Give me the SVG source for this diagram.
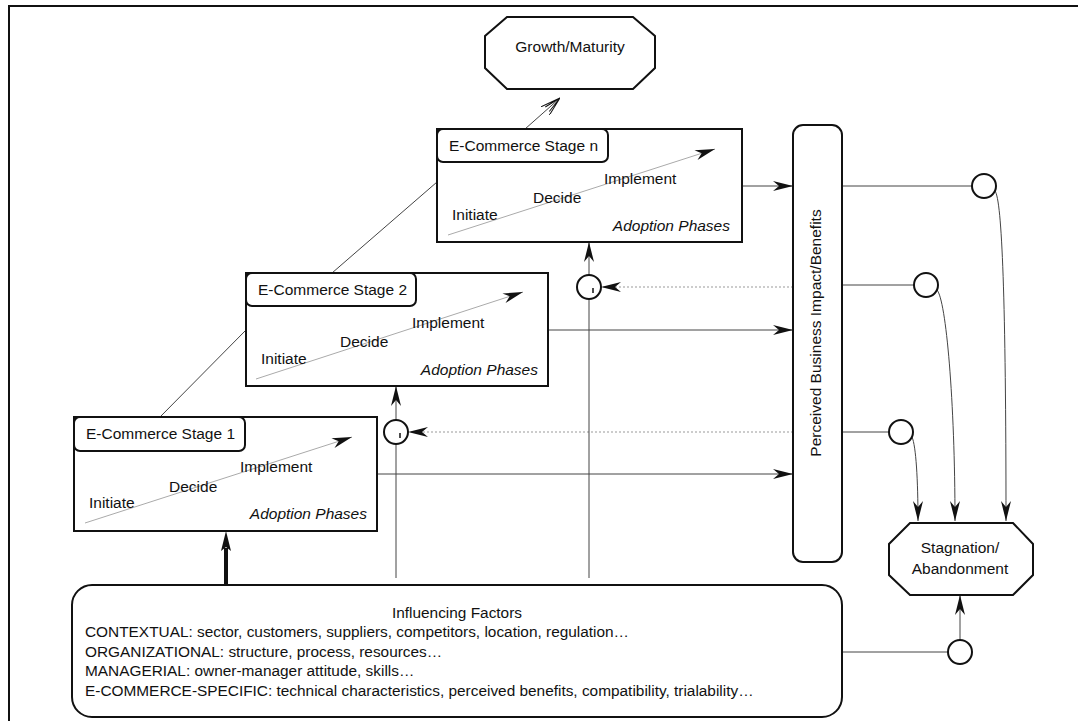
<svg xmlns="http://www.w3.org/2000/svg" width="1078" height="721" viewBox="0 0 1078 721">
<defs>
<style>
text{font-family:"Liberation Sans",Arial,sans-serif;fill:#111}
.t{font-size:15.5px}
.s{font-size:15.4px}
.it{font-size:15.5px;font-style:italic}
.box{fill:#fff;stroke:#111;stroke-width:2}
.ln{fill:none;stroke:#444;stroke-width:1}
.dot{fill:none;stroke:#999;stroke-width:1;stroke-dasharray:2,2}
.ph{fill:none;stroke:#aaa;stroke-width:1}
.circ{fill:#fff;stroke:#111;stroke-width:2}
</style>
<marker id="ah" viewBox="0 0 20 10" refX="20" refY="5" markerWidth="20" markerHeight="10" markerUnits="userSpaceOnUse" orient="auto">
<path d="M0,0 L20,5 L0,10 L6,5 z" fill="#111"/>
</marker>
<marker id="open" viewBox="0 0 20 12" refX="20" refY="6" markerWidth="20" markerHeight="12" markerUnits="userSpaceOnUse" orient="auto">
<path d="M0,0 L20,6 L0,12 M3,3 L20,6 L3,9" fill="none" stroke="#111" stroke-width="1"/>
</marker>
</defs>
<rect width="1078" height="721" fill="#fff"/>
<path d="M9,721 L9,6 L1078,6" fill="none" stroke="#111" stroke-width="2"/>

<g id="connectors">
<line class="ln" x1="160" y1="417" x2="246" y2="330"/>
<line class="ln" x1="332" y1="273" x2="437" y2="182"/>
<line class="ln" x1="525" y1="129" x2="560" y2="98" marker-end="url(#open)"/>
<line class="ln" x1="742" y1="186" x2="793" y2="186" marker-end="url(#ah)"/>
<line class="ln" x1="548" y1="330" x2="793" y2="330" marker-end="url(#ah)"/>
<line class="ln" x1="377" y1="474" x2="793" y2="474" marker-end="url(#ah)"/>
<line class="dot" x1="793" y1="287" x2="601" y2="287" marker-end="url(#ah)"/>
<line class="dot" x1="793" y1="432" x2="408" y2="432" marker-end="url(#ah)"/>
<line class="ln" x1="589" y1="275" x2="589" y2="242" marker-end="url(#ah)"/>
<line class="ln" x1="396" y1="420" x2="396" y2="386" marker-end="url(#ah)"/>
<line class="ln" x1="589" y1="299" x2="589" y2="578"/>
<line class="ln" x1="396" y1="444" x2="396" y2="578"/>
<line x1="226" y1="585" x2="226" y2="548" stroke="#111" stroke-width="4"/>
<path d="M226,531 L231,551 L226,547 L221,551 z" fill="#111"/>
<line class="ln" x1="842" y1="186" x2="972" y2="186"/>
<line class="ln" x1="842" y1="285" x2="914" y2="285"/>
<line class="ln" x1="842" y1="432" x2="889" y2="432"/>
<path class="ln" d="M995,191 C1002,200 1006,300 1006,521" marker-end="url(#ah)"/>
<path class="ln" d="M937,290 C946,300 955,400 955,521" marker-end="url(#ah)"/>
<path class="ln" d="M912,437 C916,446 918,480 918,521" marker-end="url(#ah)"/>
<line class="ln" x1="842" y1="652" x2="948" y2="652"/>
<line class="ln" x1="960" y1="640" x2="960" y2="595" marker-end="url(#ah)"/>
</g>

<g id="growth">
<polygon class="box" points="507,17 633,17 655,36 655,68 633,89 507,89 485,68 485,36"/>
<text class="t" x="570" y="52" text-anchor="middle">Growth/Maturity</text>
</g>

<g id="stage-n" transform="translate(437,129)">
<rect class="box" x="0" y="0" width="305" height="113"/>
<rect class="box" x="0" y="0" width="171" height="33" rx="6"/>
<text class="t" x="12" y="22">E-Commerce Stage n</text>
<line class="ph" x1="11" y1="106" x2="278" y2="20" marker-end="url(#ah)"/>
<text class="t" x="15" y="91">Initiate</text>
<text class="t" x="96" y="74">Decide</text>
<text class="t" x="167" y="55">Implement</text>
<text class="it" x="293" y="102" text-anchor="end">Adoption Phases</text>
</g>

<g id="stage-2" transform="translate(246,273)">
<rect class="box" x="0" y="0" width="302" height="113"/>
<rect class="box" x="0" y="0" width="170" height="33" rx="6"/>
<text class="t" x="12" y="22">E-Commerce Stage 2</text>
<line class="ph" x1="10" y1="106" x2="277" y2="19" marker-end="url(#ah)"/>
<text class="t" x="15" y="91">Initiate</text>
<text class="t" x="94" y="74">Decide</text>
<text class="t" x="166" y="55">Implement</text>
<text class="it" x="292" y="102" text-anchor="end">Adoption Phases</text>
</g>

<g id="stage-1" transform="translate(74,417)">
<rect class="box" x="0" y="0" width="303" height="114"/>
<rect class="box" x="0" y="0" width="171" height="34" rx="6"/>
<text class="t" x="12" y="22">E-Commerce Stage 1</text>
<line class="ph" x1="11" y1="106" x2="278" y2="20" marker-end="url(#ah)"/>
<text class="t" x="15" y="91">Initiate</text>
<text class="t" x="95" y="75">Decide</text>
<text class="t" x="166" y="55">Implement</text>
<text class="it" x="293" y="102" text-anchor="end">Adoption Phases</text>
</g>

<g id="perceived">
<rect class="box" x="793" y="125" width="49" height="437" rx="10"/>
<text class="t" transform="translate(821,333) rotate(-90)" text-anchor="middle">Perceived Business Impact/Benefits</text>
</g>

<g id="stagnation">
<polygon class="box" points="910,523 1013,523 1033,544 1033,575 1013,595 910,595 889,575 889,544"/>
<text class="t" x="960" y="553" text-anchor="middle">Stagnation/</text>
<text class="t" x="960" y="574" text-anchor="middle">Abandonment</text>
</g>

<g id="gate-1">
<circle class="circ" cx="396" cy="432" r="12"/>
<line x1="400" y1="433" x2="400" y2="438" stroke="#111" stroke-width="1.5"/>
</g>
<g id="gate-2">
<circle class="circ" cx="589" cy="287" r="12"/>
<line x1="593" y1="288" x2="593" y2="293" stroke="#111" stroke-width="1.5"/>
</g>
<g id="gate-3"><circle class="circ" cx="984" cy="186" r="12"/></g>
<g id="gate-4"><circle class="circ" cx="926" cy="285" r="12"/></g>
<g id="gate-5"><circle class="circ" cx="901" cy="432" r="12"/></g>
<g id="gate-6"><circle class="circ" cx="960" cy="652" r="12"/></g>

<g id="influencing">
<rect class="box" x="72" y="585" width="770" height="132" rx="20"/>
<text class="s" x="457" y="618" text-anchor="middle">Influencing Factors</text>
<text class="s" x="85" y="637">CONTEXTUAL: sector, customers, suppliers, competitors, location, regulation…</text>
<text class="s" x="85" y="657">ORGANIZATIONAL: structure, process, resources…</text>
<text class="s" x="85" y="676">MANAGERIAL: owner-manager attitude, skills…</text>
<text class="s" x="85" y="696">E-COMMERCE-SPECIFIC: technical characteristics, perceived benefits, compatibility, trialability…</text>
</g>
</svg>
